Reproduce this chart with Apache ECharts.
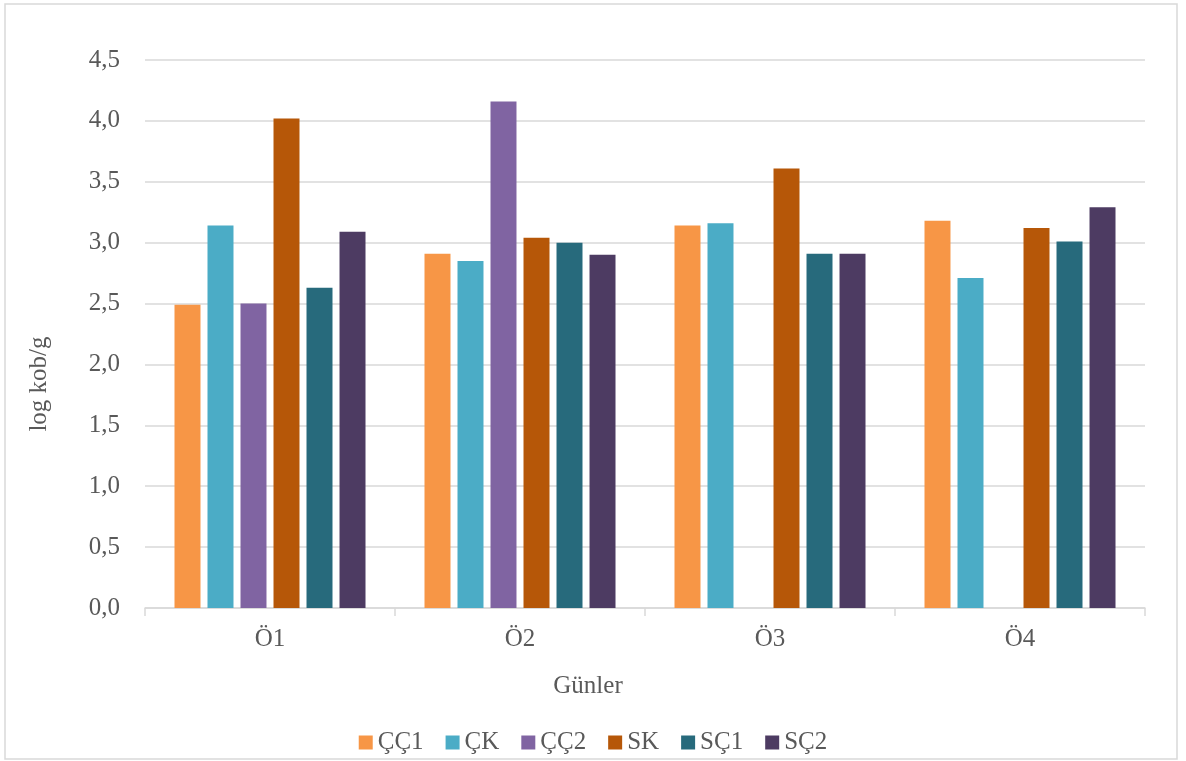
<!DOCTYPE html>
<html>
<head>
<meta charset="utf-8">
<script src="https://cdn.jsdelivr.net/npm/echarts@6/dist/echarts.min.js"></script>
<style>
  html, body { margin: 0; padding: 0; background: #ffffff; }
  #chart { width: 1186px; height: 761px; }
</style>
</head>
<body>
<div id="chart"></div>
<script>
// Sampling days
const days = ['Ö1', 'Ö2', 'Ö3', 'Ö4'];

// log kob/g per group and day (null = not measured)
const cc1 = [2.49, 2.91, 3.14, 3.18];
const ck  = [3.14, 2.85, 3.16, 2.71];
const cc2 = [2.50, 4.16, null, null];
const sk  = [4.02, 3.04, 3.61, 3.12];
const sc1 = [2.63, 3.00, 2.91, 3.01];
const sc2 = [3.09, 2.90, 2.91, 3.29];

const seriesNames = ['ÇÇ1', 'ÇK', 'ÇÇ2', 'SK', 'SÇ1', 'SÇ2'];
const seriesData = [cc1, ck, cc2, sk, sc1, sc2];
const seriesColors = ['#F79646', '#4BACC6', '#8064A2', '#B65708', '#276A7C', '#4D3B62'];

const FONT = "'Liberation Serif', 'Times New Roman', serif";
const FS = 25;
const TEXT = '#595959';
const LINE = '#d9d9d9';

const chart = echarts.init(document.getElementById('chart'), null, { renderer: 'canvas' });

chart.setOption({
  backgroundColor: '#ffffff',
  animation: false,
  textStyle: { fontFamily: FONT },
  graphic: [{
    type: 'rect',
    shape: { x: 5, y: 4, width: 1172, height: 755 },
    style: { fill: 'none', stroke: LINE, lineWidth: 1.5 },
    silent: true,
    z: -10
  }],
  grid: { left: 145, right: 41, top: 60, bottom: 153, containLabel: false },
  legend: {
    top: 725,
    left: 'center',
    itemWidth: 14,
    itemHeight: 14,
    itemGap: 22,
    icon: 'rect',
    textStyle: { fontFamily: FONT, fontSize: FS, color: TEXT },
    data: seriesNames
  },
  xAxis: {
    type: 'category',
    data: days,
    name: 'Günler',
    nameLocation: 'middle',
    nameGap: 66,
    // titles sit centred on the whole chart box rather than on the plot area
    nameTextStyle: { fontFamily: FONT, fontSize: FS, color: TEXT, padding: [0, 114, 0, 0] },
    axisLine: { lineStyle: { color: LINE, width: 1.5 } },
    axisTick: { show: true, length: 8, lineStyle: { color: LINE, width: 1.5 } },
    axisLabel: { fontFamily: FONT, fontSize: FS, color: TEXT, margin: 19 },
    splitLine: { show: false }
  },
  yAxis: {
    type: 'value',
    min: 0,
    max: 4.5,
    interval: 0.5,
    name: 'log kob/g',
    nameLocation: 'middle',
    nameRotate: 90,
    nameGap: 93,
    nameTextStyle: { fontFamily: FONT, fontSize: FS, color: TEXT, padding: [0, 100, 0, 0] },
    axisLine: { show: false },
    axisTick: { show: false },
    axisLabel: {
      fontFamily: FONT, fontSize: FS, color: TEXT, margin: 25,
      formatter: v => v.toFixed(1).replace('.', ',')
    },
    splitLine: { show: true, lineStyle: { color: LINE, width: 1.5 } }
  },
  series: seriesNames.map((name, i) => ({
    name: name,
    type: 'bar',
    data: seriesData[i],
    barGap: '27%',
    barCategoryGap: '23.6%',
    itemStyle: { color: seriesColors[i] }
  }))
});
</script>
</body>
</html>
